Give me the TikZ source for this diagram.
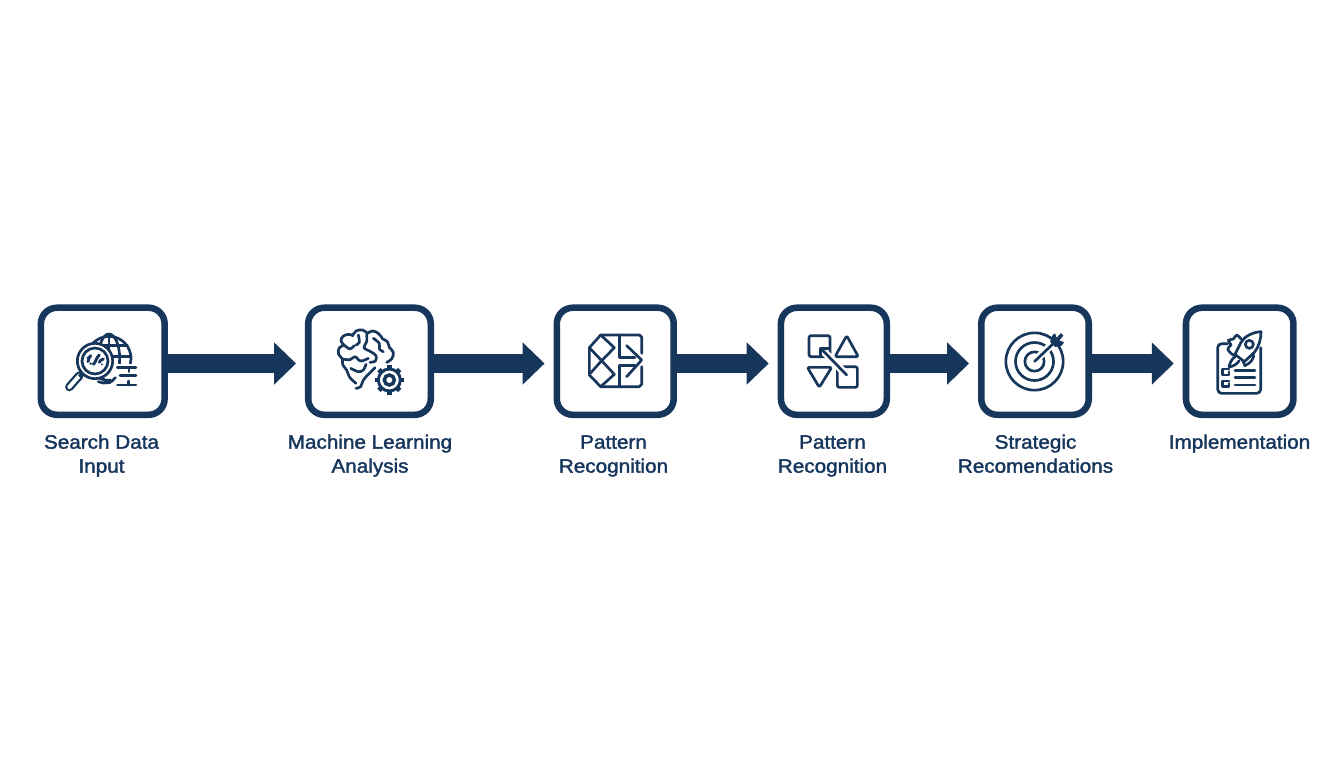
\documentclass[tikz,border=0pt]{standalone}
\usepackage{fontspec}
\setmainfont{Liberation Sans}[FakeBold=1.8,FakeStretch=1.07]
\usetikzlibrary{arrows.meta,calc}
\definecolor{navy}{HTML}{16365C}
\newcommand{\lstrut}{\rule{0pt}{11pt}}
\tikzset{
  boxnode/.style={draw=navy,line width=4.9pt,fill=white,rounded corners=12pt,minimum height=80.3pt,inner sep=0pt},
  flowarrow/.style={draw=navy,line width=14.25pt,-{Triangle[length=16.5pt,width=30.75pt]},shorten >=6.7pt},
  steplabel/.style={text=navy,font=\fontsize{14.5}{18}\selectfont,align=center,anchor=north,inner sep=0pt},
  ico/.style={draw=navy,line width=2pt,line join=round,line cap=round},
  zoomed/.style 2 args={shift={(#1,#2)},x=.25pt,y=-.25pt}
}
\begin{document}
\begin{tikzpicture}[x=.75pt,y=-.75pt]
\useasboundingbox (0,0) rectangle (1344,768);
% boxes
\node[boxnode,minimum width=92.8pt] (b1) at (102.75,361.25) {};
\node[boxnode,minimum width=91.9pt] (b2) at (369.5,361.25) {};
\node[boxnode,minimum width=87.7pt] (b3) at (615.25,361.25) {};
\node[boxnode,minimum width=79.4pt] (b4) at (833.85,361.25) {};
\node[boxnode,minimum width=80.6pt] (b5) at (1035,361.25) {};
\node[boxnode,minimum width=80.6pt] (b6) at (1239.7,361.25) {};
% connectors
\foreach \p/\q in {b1/b2,b2/b3,b3/b4,b4/b5,b5/b6}
  \draw[flowarrow] ([yshift=-1.7pt]\p.east) -- ([yshift=-1.7pt]\q.west);
% labels
\node[steplabel] (t1) at (101.5,433.7) {\lstrut Search Data\\Input};
\node[steplabel] (t2) at (370,433.7) {\lstrut Machine Learning\\Analysis};
\node[steplabel] (t3) at (613.5,433.7) {\lstrut Pattern\\Recognition};
\node[steplabel] (t4) at (832.5,433.7) {\lstrut Pattern\\Recognition};
\node[steplabel] (t5) at (1035.5,433.7) {\lstrut Strategic\\Recomendations};
\node[steplabel] (t6) at (1239.5,433.7) {\lstrut Implementation};
% icon 1: globe and magnifier
\begin{scope}[zoomed={60}{325}]
  \draw[ico] (147,100) circle[radius=66];
  \draw[ico] (147,100) ellipse[x radius=32,y radius=73];
  \draw[ico] (147,27) -- (147,125);
  \draw[ico] (100,62) -- (202,62);
  \draw[ico] (150,95) -- (213,95);
  \fill[white] (152,118) rectangle (240,195);
  \draw[ico] (115,170) .. controls (135,178) and (155,175) .. (166,158);
  \draw[ico] (172,127) -- (228,127);
  \draw[ico] (180,152) -- (228,152);
  \draw[ico] (172,180) -- (228,180);
  \draw[ico] (207,127) -- (207,140);
  \draw[ico] (205,168) -- (205,180);
  \draw[ico,fill=white] (105,108) circle[radius=53];
  \draw[ico] (105,108) circle[radius=39];
  \draw[draw=navy,line width=6.4pt,line cap=round] (58,152) -- (28,186);
  \draw[draw=white,line width=3pt,line cap=round] (58,152) -- (28,186);
  \draw[draw=navy,line width=2.4pt,line cap=butt] (70,143) -- (58,155);
  \draw[ico,line width=2.2pt] (84,110) .. controls (84,100) and (90,96) .. (92,92);
  \draw[ico,line width=2.2pt] (100,118) .. controls (108,112) and (108,98) .. (118,90);
  \draw[ico,line width=2.2pt] (118,112) .. controls (120,108) and (122,104) .. (130,102);
  \fill[navy] (92,116) circle[radius=4];
  \fill[navy] (82,98) circle[radius=3];
  \fill[navy] (126,118) circle[radius=3];
\end{scope}
% icon 2: brain and gear
\begin{scope}[zoomed={330}{325}]
  \draw[ico] plot[smooth,tension=.6] coordinates {(50,135)(38,118)(37,102)(26,88)(27,70)(42,60)};
  \draw[ico] plot[smooth,tension=.7] coordinates {(42,60)(33,48)(40,33)(58,28)(68,32)};
  \draw[ico] plot[smooth,tension=.7] coordinates {(68,32)(78,18)(98,15)(112,25)};
  \draw[ico] plot[smooth,tension=.7] coordinates {(112,25)(128,18)(146,26)(158,42)};
  \draw[ico] plot[smooth,tension=.7] coordinates {(158,42)(172,50)(178,68)};
  \draw[ico] plot[smooth,tension=.7] coordinates {(178,68)(190,82)(185,102)(170,112)};
  \draw[ico] plot[smooth,tension=.6] coordinates {(110,28)(110,50)(102,68)(122,80)(138,92)(136,108)(120,112)};
  \draw[ico] plot[smooth,tension=.6] coordinates {(42,60)(60,72)(72,62)};
  \draw[ico] plot[smooth,tension=.6] coordinates {(37,102)(60,104)(75,95)(92,108)(115,100)};
  \draw[ico] plot[smooth,tension=.6] coordinates {(85,30)(88,52)(78,60)};
  \draw[ico] plot[smooth,tension=.6] coordinates {(130,40)(148,55)(148,72)(160,80)};
  \draw[ico] plot[smooth,tension=.6] coordinates {(50,135)(60,158)(78,175)};
  \draw[ico] plot[smooth,tension=.6] coordinates {(78,190)(92,185)(100,165)(118,145)(135,128)};
  \draw[ico] plot[smooth,tension=.6] coordinates {(62,130)(85,140)(100,135)(108,118)};
  \fill[white] (178,165) circle[radius=46];
  \begin{scope}[shift={(178,165)}]
    \foreach \a in {0,45,...,315}
      \draw[draw=navy,line width=3.6pt,line cap=butt] (\a:30) -- (\a:44);
    \draw[draw=navy,line width=2.2pt,fill=white] (0,0) circle[radius=33];
    \draw[draw=navy,line width=2.6pt] (0,0) circle[radius=15];
  \end{scope}
\end{scope}
% icon 3: faceted shape
\begin{scope}[zoomed={580}{325}]
  \draw[ico] (185,85) -- (185,36) -- (178,30) -- (62,30) -- (28,68) -- (28,150) -- (62,185) -- (178,185) -- (185,178) -- (185,125);
  \draw[ico] (62,30) -- (103,68) -- (65,107) -- (28,68);
  \draw[ico] (65,107) -- (103,148) -- (62,185);
  \draw[ico] (28,148) -- (65,107);
  \draw[ico] (118,30) -- (118,98) -- (165,98);
  \draw[ico] (118,185) -- (118,122) -- (165,122);
  \draw[ico] (140,62) -- (185,105) -- (140,155);
\end{scope}
% icon 4: shapes with arrow
\begin{scope}[zoomed={800}{325}]
  \draw[ico,rounded corners=1.5pt] (27,32) rectangle (90,95);
  \draw[ico,rounded corners=1.5pt] (140,32) -- (175,95) -- (105,95) -- cycle;
  \draw[ico,rounded corners=1.5pt] (22,127) -- (95,127) -- (58,187) -- cycle;
  \draw[ico,rounded corners=1.5pt] (112,125) rectangle (172,187);
  \draw[draw=white,line width=5.5pt] (140,150) -- (75,83);
  \draw[ico] (140,150) -- (62,70);
  \draw[ico] (85,70) -- (62,70) -- (62,95);
\end{scope}
% icon 5: target
\begin{scope}[zoomed={1000}{325}]
  \draw[ico] (103.5,109.5) circle[radius=86];
  \draw[ico] (103.5,109.5) circle[radius=57];
  \draw[ico] (103.5,109.5) circle[radius=29];
  \draw[draw=white,line width=5.5pt] (115,97) -- (185,30);
  \draw[ico] (103.5,109.5) -- (168,48);
  \fill[navy] (150,50) -- (158,30) -- (165,25) -- (170,38) -- (183,24) -- (190,32) -- (178,46) -- (192,52) -- (185,62) -- (165,66) -- cycle;
\end{scope}
% icon 6: rocket and clipboard
\begin{scope}[zoomed={1205}{325}]
  \draw[ico,rounded corners=3pt] (68,56) -- (38,56) -- (38,205) -- (167,205) -- (167,68);
  \draw[ico] (90,137) -- (150,137);
  \draw[ico] (90,157) -- (150,157);
  \draw[ico] (90,180) -- (150,180);
  \draw[ico] (72,132) -- (52,132) -- (52,150) -- (72,150) -- (72,140);
  \draw[ico] (72,168) -- (52,168) -- (52,185) -- (72,185) -- (72,175);
  \draw[ico,fill=white] plot[smooth,tension=.6] coordinates {(108,42)(95,30)(85,42)(70,46)(78,60)(68,72)(85,90)(98,84)};
  \draw[ico,fill=white] (145,85) .. controls (150,100) and (135,115) .. (120,122) -- (110,100) -- cycle;
  \draw[ico,fill=white] (90,95) .. controls (80,102) and (74,115) .. (72,126) .. controls (85,124) and (95,118) .. (102,108);
  \draw[ico,fill=white] (168,20) .. controls (140,22) and (118,35) .. (108,52) -- (90,88) -- (118,110) -- (148,82) .. controls (162,65) and (168,42) .. cycle;
  \draw[ico] (133,58) circle[radius=12];
\end{scope}
\end{tikzpicture}
\end{document}
